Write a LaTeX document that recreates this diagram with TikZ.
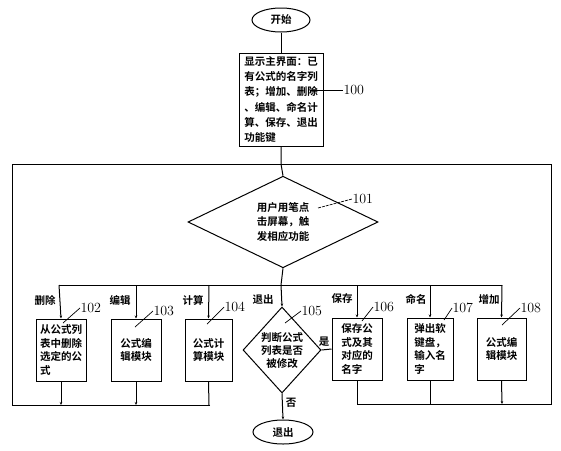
\documentclass[tikz,border=0pt]{standalone}
\usepackage{fontspec}
\newfontfamily\cjk{Noto Sans CJK SC}[BoldFont={Noto Sans CJK SC Bold}]
\usetikzlibrary{shapes.geometric,arrows.meta}
\begin{document}
\begin{tikzpicture}[x=1pt,y=-1pt,
  line width=1pt,
  every node/.style={font=\cjk\bfseries\fontsize{10.5}{13.5}\selectfont},
  term/.style={draw,ellipse,minimum width=58pt,minimum height=24pt,inner sep=0pt},
  proc/.style={draw,rectangle,inner sep=1pt,minimum width=50pt,minimum height=62pt,align=left},
  dec/.style={draw,diamond,inner sep=0pt,align=center},
  lab/.style={inner sep=0pt},
  num/.style={inner sep=0pt,font=\fontsize{14}{14}\selectfont},
  arr/.style={-{Stealth[length=3pt,width=2.5pt]}},
  lead/.style={line width=0.7pt}]
\useasboundingbox (0,0) rectangle (561,450);
% top
\node[term] (start) at (281,20) {开始};
\node[proc,minimum width=84pt,minimum height=93pt,font=\cjk\bfseries\fontsize{10.5}{15.3}\selectfont] (b100) at (281,99.5) {显示主界面：已\\有公式的名字列\\表；增加、删除\\、编辑、命名计\\算、保存、退出\\功能键};
\node[num,anchor=west] (n100) at (343,90) {100};
\draw[lead] (310,90) -- (n100.west);
\draw (start) -- (b100);
% decision 101
\node[dec,minimum width=190pt,minimum height=73pt,font=\cjk\bfseries\fontsize{10.5}{14.5}\selectfont] (d101) at (283,222) {用户用笔点\\击屏幕，触\\发相应功能};
\node[num,anchor=west] (n101) at (352,199) {101};
\draw[lead,dash pattern=on 3pt off 1pt] (318,208) -- (n101.west);
\coordinate (top) at (281,164);
\draw (b100.south) -- (top) -- (d101.north);
% outer loop
\coordinate (ll) at (12,405);
\coordinate (lt) at (12,164);
\coordinate (rt) at (551,164);
\coordinate (rb) at (551,404);
\coordinate (lj) at (210,405);
\coordinate (rj) at (357,404);
\draw (lj) -- (ll) -- (lt) -- (rt) -- (rb) -- (rj);
% branch bus
\coordinate (bus) at (281,285);
\coordinate (busl) at (59,285);
\coordinate (busr) at (502,285);
\draw (busl) -- (busr);
\draw (d101.south) -- (bus);
% boxes
\node[proc,minimum width=50pt] (b102) at (61,350) {从公式列\\表中删除\\选定的公\\式};
\node[proc,minimum width=50pt,align=center] (b103) at (136,350) {公式编\\辑模块};
\node[proc,minimum width=47pt,align=center] (b104) at (208.5,350) {公式计\\算模块};
\node[dec,minimum width=70pt,minimum height=86pt,font=\cjk\bfseries\fontsize{10.5}{13}\selectfont] (d105) at (282,350) {判断公式\\列表是否\\被修改};
\node[proc,minimum width=50pt] (b106) at (357,349) {保存公\\式及其\\对应的\\名字};
\node[proc,minimum width=46pt] (b107) at (430,349) {弹出软\\键盘，\\输入名\\字};
\node[proc,minimum width=49pt,align=center] (b108) at (501.5,349) {公式编\\辑模块};
\node[term,minimum width=60pt] (stop) at (283,432) {退出};
% drops
\draw[arr] (busl) -- (b102.north);
\draw[arr] (136,285) -- (b103.north);
\draw[arr] (209,285) -- (b104.north);
\draw[arr] (bus) -- (d105.north);
\draw[arr] (357,285) -- (b106.north);
\draw[arr] (430,285) -- (b107.north);
\draw[arr] (busr) -- (b108.north);
% returns
\draw[arr] (b102.south) -- (61,405);
\draw[arr] (b103.south) -- (136,405);
\draw (b104.south) -- (209,405);
\draw (b106.south) -- (357,404);
\draw (b107.south) -- (430,404);
\draw[arr] (b108.south) -- (502,404);
\draw (d105.east) -- (b106.west);
\draw[arr] (d105.south) -- (stop.north);
% branch labels
\node[lab] (l1) at (45,300) {删除};
\node[lab] (l2) at (120,300) {编辑};
\node[lab] (l3) at (193,300) {计算};
\node[lab] (l4) at (263,300) {退出};
\node[lab] (l5) at (342,299) {保存};
\node[lab] (l6) at (416,299) {命名};
\node[lab] (l7) at (489,299) {增加};
\node[lab] (yes) at (324,342) {是};
\node[lab] (no) at (291,403) {否};
% numbers
\node[num,anchor=west] (n102) at (80,308) {102};
\draw[lead] (63,323) -- (n102.west);
\node[num,anchor=west] (n103) at (153,311) {103};
\draw[lead] (135,327) -- (n103.west);
\node[num,anchor=west] (n104) at (224,307) {104};
\draw[lead] (207,324) -- (n104.west);
\node[num,anchor=west] (n105) at (301,311) {105};
\draw[lead] (285,323) -- (n105.west);
\node[num,anchor=west] (n106) at (373,307) {106};
\draw[lead] (362,321) -- (n106.west);
\node[num,anchor=west] (n107) at (452,308) {107};
\draw[lead] (444,320) -- (n107.west);
\node[num,anchor=west] (n108) at (520,308) {108};
\draw[lead] (502,325) -- (n108.west);
\end{tikzpicture}
\end{document}
